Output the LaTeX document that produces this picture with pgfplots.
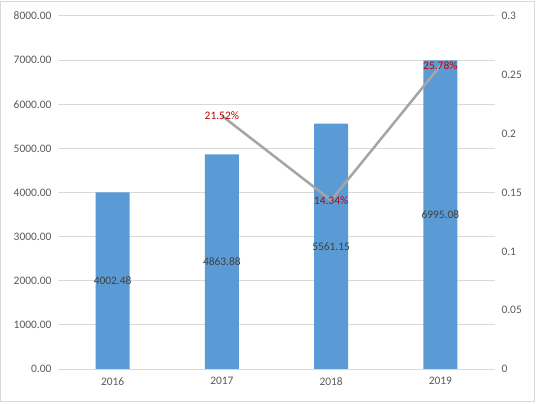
\documentclass[border=0pt]{standalone}
\usepackage{fontspec}
\setmainfont{Carlito}
\usepackage{pgfplots}
\pgfplotsset{compat=1.18}
\definecolor{barblue}{HTML}{5B9BD5}
\definecolor{linegray}{HTML}{A5A5A5}
\definecolor{gridgray}{HTML}{D9D9D9}
\definecolor{txt}{HTML}{595959}
\definecolor{lbl}{HTML}{404040}
\definecolor{lblred}{HTML}{C00000}
\begin{document}
\begin{tikzpicture}
\useasboundingbox (-58bp,-35bp) rectangle (479bp,369bp);
\draw[gridgray, line width=1bp] (-57bp,-32bp) rectangle (476bp,367bp);
\pgfplotsset{
  common/.style={
    scale only axis, width=437bp, height=353bp,
    xmin=-0.5, xmax=3.5,
    axis line style={draw=none},
    tick style={draw=none},
    major tick length=0pt,
    ticklabel style={font=\fontsize{11.5}{13}\selectfont, text=txt},
    /pgf/number format/assume math mode=true,
  }
}
\begin{axis}[
  common,
  ymin=0, ymax=8000,
  ytick={0,1000,...,8000},
  ymajorgrids,
  grid style={gridgray, line width=1bp},
  xtick={0,1,2,3},
  xticklabels={2016,2017,2018,2019},
  xticklabel style={yshift=-5bp},
  yticklabel style={xshift=-3bp, /pgf/number format/.cd, fixed, fixed zerofill, precision=2, 1000 sep={}},
  ybar, bar width=34bp,
  visualization depends on=y \as \rawy,
  nodes near coords={\pgfmathprintnumber[fixed, fixed zerofill, precision=2, 1000 sep={}, assume math mode=true]{\pgfplotspointmeta}},
  nodes near coords style={font=\fontsize{11.5}{13}\selectfont, text=lbl, anchor=center,
    shift={(axis direction cs:0,-\rawy/2)}},
]
\addplot[fill=barblue, draw=none] coordinates {(0,4002.48) (1,4863.88) (2,5561.15) (3,6995.08)};
\end{axis}
\begin{axis}[
  common,
  ymin=0, ymax=0.3,
  axis y line*=right,
  hide x axis,
  ytick={0,0.05,0.1,0.15,0.2,0.25,0.3},
  yticklabels={0,0.05,0.1,0.15,0.2,0.25,0.3},
  yticklabel style={anchor=west, xshift=3bp},
  point meta=explicit symbolic,
  nodes near coords,
  nodes near coords style={font=\fontsize{11.5}{13}\selectfont, text=lblred, anchor=center},
]
\addplot[linegray, line width=2.5bp, mark=none] coordinates {(1,0.2152) [21.52\%] (2,0.1434) [14.34\%] (3,0.2578) [25.78\%]};
\end{axis}
\end{tikzpicture}
\end{document}
